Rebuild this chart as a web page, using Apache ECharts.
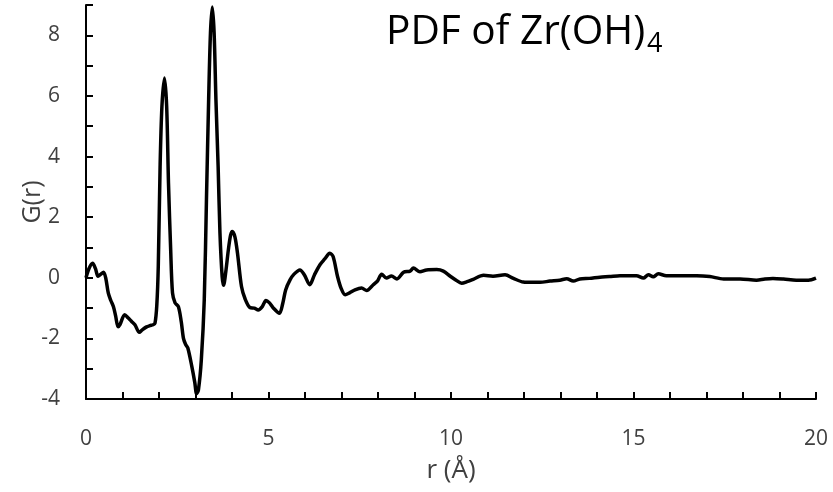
<!DOCTYPE html>
<html>
<head>
<meta charset="utf-8">
<script src="https://cdn.jsdelivr.net/npm/echarts@6/dist/echarts.min.js"></script>
<style>
html,body{margin:0;padding:0;background:#fff;}
#chart{width:833px;height:492px;}
</style>
</head>
<body>
<div id="chart"></div>
<script>
var rValues = [0.00,0.08,0.18,0.26,0.33,0.41,0.48,0.54,0.61,0.68,0.75,0.81,0.88,0.93,1.06,1.16,1.25,1.34,1.46,1.54,1.66,1.75,1.84,1.89,1.94,1.98,2.03,2.08,2.15,2.21,2.26,2.32,2.37,2.44,2.53,2.61,2.67,2.73,2.79,2.90,2.98,3.03,3.08,3.16,3.24,3.30,3.36,3.41,3.46,3.51,3.56,3.62,3.67,3.73,3.77,3.83,3.90,3.96,4.01,4.08,4.15,4.26,4.36,4.49,4.61,4.72,4.83,4.93,5.02,5.12,5.30,5.39,5.47,5.59,5.70,5.86,5.98,6.13,6.26,6.41,6.54,6.68,6.77,6.89,6.99,7.10,7.22,7.37,7.55,7.69,7.87,7.99,8.10,8.23,8.37,8.52,8.70,8.88,8.97,9.15,9.33,9.61,9.79,9.98,10.14,10.29,10.44,10.61,10.89,11.15,11.48,11.71,11.98,12.22,12.44,12.71,12.98,13.17,13.35,13.53,13.79,14.08,14.34,14.63,14.90,15.08,15.27,15.41,15.54,15.68,15.90,16.22,16.52,16.73,17.09,17.47,17.92,18.37,18.60,18.82,19.11,19.46,19.79,20.00];
var gValues = [0.00,0.30,0.48,0.30,0.05,0.12,0.18,0.00,-0.50,-0.75,-0.95,-1.25,-1.62,-1.55,-1.22,-1.33,-1.44,-1.55,-1.80,-1.72,-1.62,-1.58,-1.55,-1.50,-0.90,0.37,3.67,5.65,6.59,5.65,3.12,0.92,-0.50,-0.83,-0.95,-1.45,-2.00,-2.20,-2.32,-2.93,-3.45,-3.83,-3.70,-2.70,-0.73,2.57,5.87,8.08,8.93,8.08,5.87,3.67,1.48,0.04,-0.25,0.20,0.92,1.40,1.53,1.35,0.82,-0.29,-0.70,-0.98,-1.00,-1.06,-0.95,-0.75,-0.82,-0.98,-1.17,-0.85,-0.40,-0.07,0.12,0.26,0.10,-0.23,0.10,0.43,0.62,0.81,0.70,0.05,-0.35,-0.56,-0.50,-0.40,-0.34,-0.42,-0.23,-0.10,0.12,-0.01,0.06,-0.04,0.18,0.22,0.32,0.20,0.26,0.27,0.22,0.05,-0.08,-0.18,-0.13,-0.05,0.08,0.05,0.10,-0.02,-0.14,-0.15,-0.15,-0.11,-0.08,-0.03,-0.11,-0.04,-0.02,0.02,0.04,0.07,0.07,0.07,-0.01,0.10,0.03,0.13,0.07,0.07,0.07,0.07,0.04,-0.04,-0.04,-0.08,-0.04,-0.02,-0.04,-0.08,-0.08,-0.01];
var xTickLabels = [0, 5, 10, 15, 20];
var yTickLabels = [-4, -2, 0, 2, 4, 6, 8];
var titleMain = 'PDF of Zr(OH)';
var titleSub = '4';
var xName = 'r (Å)';
var yName = 'G(r)';

var seriesData = rValues.map(function (r, i) { return [r, gValues[i]]; });
var FONT = '"Open Sans", sans-serif';

var chart = echarts.init(document.getElementById('chart'), null, {renderer: 'canvas'});
chart.setOption({
  animation: false,
  backgroundColor: '#ffffff',
  grid: {left: 86, top: 5, width: 730, height: 394, containLabel: false},
  graphic: [
    {type: 'text', left: 386, top: 12, style: {text: titleMain, font: '40.6px ' + FONT, fill: '#000'}},
    {type: 'text', left: 647, top: 31, style: {text: titleSub, font: '27px ' + FONT, fill: '#000'}}
  ],
  xAxis: {
    type: 'value', min: 0, max: 20, interval: 1,
    name: xName, nameLocation: 'middle', nameGap: 59, nameMoveOverlap: false,
    nameTextStyle: {fontFamily: FONT, fontSize: 26, color: '#404040'},
    axisLine: {onZero: false, lineStyle: {color: '#000', width: 2}},
    axisTick: {inside: true, length: 7, lineStyle: {color: '#000', width: 2}},
    axisLabel: {margin: 30, fontFamily: FONT, fontSize: 21, color: '#404040',
      formatter: function (v) { return xTickLabels.indexOf(v) >= 0 ? String(v) : ''; }},
    splitLine: {show: false}
  },
  yAxis: {
    type: 'value', min: -4, max: 9, interval: 1,
    name: yName, nameLocation: 'middle', nameGap: 41, nameMoveOverlap: false,
    nameTextStyle: {fontFamily: FONT, fontSize: 25, color: '#404040'},
    axisLine: {show: true, onZero: false, lineStyle: {color: '#000', width: 2}},
    axisTick: {show: true, inside: true, length: 7, lineStyle: {color: '#000', width: 2}},
    axisLabel: {margin: 26, fontFamily: FONT, fontSize: 21, color: '#404040',
      formatter: function (v) { return yTickLabels.indexOf(v) >= 0 ? String(v) : ''; }},
    splitLine: {show: false}
  },
  series: [{
    type: 'line', data: seriesData, showSymbol: false, symbol: 'none',
    smooth: 0.3,
    lineStyle: {color: '#000', width: 3.5},
    clip: false
  }]
});
</script>
</body>
</html>
